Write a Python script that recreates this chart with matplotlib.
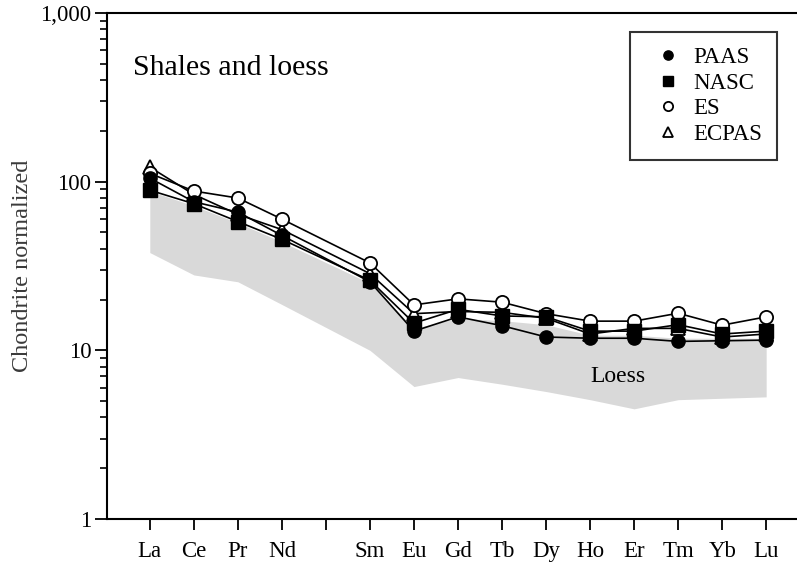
import matplotlib
matplotlib.use('Agg')
import matplotlib.pyplot as plt
from matplotlib.ticker import LogLocator, NullFormatter, FixedLocator

elements = ['La', 'Ce', 'Pr', 'Nd', 'Sm', 'Eu', 'Gd', 'Tb', 'Dy', 'Ho', 'Er', 'Tm', 'Yb', 'Lu']
x = [1, 2, 3, 4, 6, 7, 8, 9, 10, 11, 12, 13, 14, 15]
tick_labels = ['La', 'Ce', 'Pr', 'Nd', '', 'Sm', 'Eu', 'Gd', 'Tb', 'Dy', 'Ho', 'Er', 'Tm', 'Yb', 'Lu']

paas = [105, 76, 66, 48, 25.5, 13, 15.8, 14, 12, 11.8, 11.8, 11.3, 11.4, 11.5]
nasc = [89, 74, 58, 45.5, 26, 14.5, 17.5, 16, 15.8, 13, 13, 14.2, 12.5, 13]
es = [112, 88, 80, 60, 33, 18.6, 20.2, 19.3, 16.5, 14.9, 14.9, 16.6, 14.1, 15.8]
ecpas = [122, 84, 64, 52, 28.5, 16.5, 17, 16.8, 15.5, 12.5, 13.5, 13.5, 12, 12.5]

loess_low = [38, 28, 25.5, 18.7, 10, 6.1, 6.9, 6.3, 5.7, 5.1, 4.5, 5.1, 5.2, 5.3]
loess_high = [88, 72, 57, 44, 25, 13.5, 15.5, 15, 14.2, 12.3, 12.3, 11.8, 11.8, 11.8]

plt.rcParams['font.family'] = ['Liberation Serif', 'DejaVu Serif']

fig = plt.figure(figsize=(7.97, 5.66), dpi=100)
ax = fig.add_axes([0.134, 0.083, 0.866, 0.894])

ax.fill_between(x, loess_low, loess_high, color='#d9d9d9', lw=0, zorder=1)

ms = 9.5
ax.plot(x, ecpas, color='black', lw=1.2, marker='^', ms=ms, mfc='white', mec='black', mew=1.3, label='ECPAS', zorder=3)
ax.plot(x, es, color='black', lw=1.2, marker='o', ms=ms, mfc='white', mec='black', mew=1.3, label='ES', zorder=3)
ax.plot(x, paas, color='black', lw=1.2, marker='o', ms=ms, mfc='black', mec='black', label='PAAS', zorder=4)
ax.plot(x, nasc, color='black', lw=1.2, marker='s', ms=ms, mfc='black', mec='black', label='NASC', zorder=4)

ax.set_yscale('log')
ax.set_ylim(1, 1000)
ax.set_xlim(0.023, 15.7)
ax.set_yticks([1, 10, 100, 1000])
ax.set_yticklabels(['1', '10', '100', '1,000'])
ax.yaxis.set_minor_locator(LogLocator(base=10, subs=range(2, 10)))
ax.yaxis.set_minor_formatter(NullFormatter())
ax.xaxis.set_major_locator(FixedLocator(range(1, 16)))
ax.set_xticklabels(tick_labels)

for s in ['left', 'bottom', 'top']:
    ax.spines[s].set_linewidth(1.5)
ax.spines['right'].set_visible(False)

ax.tick_params(axis='y', which='major', length=9, width=1.3, labelsize=16.5, pad=2)
ax.tick_params(axis='y', which='minor', length=5, width=1.2)
ax.tick_params(axis='x', which='major', length=8, width=1.3, labelsize=16.5, pad=8)

ax.set_ylabel('Chondrite normalized', fontsize=17.5, color='#3a3a3a', labelpad=5)

ax.text(0.038, 0.877, 'Shales and loess', transform=ax.transAxes, fontsize=21.5, va='baseline', ha='left')
ax.text(11, 7.0, 'Loess', fontsize=17, va='center', ha='left')

handles, labels = ax.get_legend_handles_labels()
order = [labels.index(n) for n in ['PAAS', 'NASC', 'ES', 'ECPAS']]
leg = ax.legend([handles[i] for i in order], [labels[i] for i in order],
                loc='upper right', bbox_to_anchor=(0.971, 0.962), borderaxespad=0,
                fontsize=16.5, frameon=True, fancybox=False, edgecolor='black',
                handlelength=2.0, handletextpad=0.1, labelspacing=0.2,
                markerscale=0.7, borderpad=0.65)
leg.get_frame().set_linewidth(1.5)
for h in leg.legend_handles:
    h.set_linestyle('none')

fig.savefig('out.png', dpi=100)
